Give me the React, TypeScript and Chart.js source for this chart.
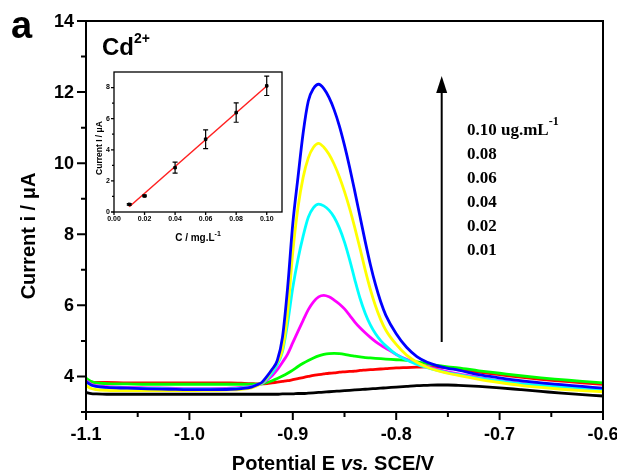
import React, { useEffect, useRef } from "react";
import { Chart, registerables } from "chart.js";
Chart.register(...registerables);

// ---------- main DPV curves ----------
const potential = [
  -1.1, -1.095, -1.09, -1.08, -1.06, -1.04, -1.02, -1.0, -0.98, -0.96, -0.95, -0.94, -0.935,
  -0.93, -0.925, -0.92, -0.915, -0.91, -0.905, -0.9, -0.895, -0.89, -0.885, -0.88, -0.875,
  -0.87, -0.865, -0.86, -0.855, -0.85, -0.845, -0.84, -0.835, -0.83, -0.825, -0.82, -0.815, -0.81,
  -0.8, -0.79, -0.78, -0.77, -0.76, -0.75, -0.74, -0.72, -0.7, -0.68, -0.66, -0.64, -0.62, -0.6,
];

const blank = [
  3.55, 3.52, 3.51, 3.5, 3.5, 3.5, 3.5, 3.5, 3.5, 3.5, 3.5, 3.5, 3.5,
  3.5, 3.5, 3.5, 3.5, 3.51, 3.51, 3.51, 3.52, 3.52, 3.53, 3.54, 3.55,
  3.56, 3.57, 3.58, 3.59, 3.6, 3.61, 3.62, 3.63, 3.64, 3.65, 3.66, 3.67, 3.68,
  3.7, 3.72, 3.74, 3.75, 3.76, 3.76, 3.75, 3.72, 3.68, 3.63, 3.58, 3.53, 3.49, 3.45,
];
const conc001 = [
  3.9, 3.85, 3.83, 3.83, 3.82, 3.82, 3.82, 3.82, 3.82, 3.82, 3.81, 3.8, 3.79,
  3.79, 3.8, 3.82, 3.84, 3.86, 3.88, 3.91, 3.94, 3.97, 4.0, 4.03, 4.05,
  4.07, 4.09, 4.1, 4.12, 4.13, 4.14, 4.15, 4.17, 4.18, 4.19, 4.2, 4.21, 4.22,
  4.24, 4.25, 4.26, 4.27, 4.26, 4.24, 4.2, 4.12, 4.05, 3.98, 3.92, 3.87, 3.82, 3.78,
];
const conc002 = [
  3.95, 3.86, 3.82, 3.8, 3.79, 3.78, 3.78, 3.78, 3.78, 3.78, 3.78, 3.78, 3.78,
  3.79, 3.83, 3.88, 3.94, 4.01, 4.09, 4.18, 4.28, 4.37, 4.45, 4.52, 4.58,
  4.62, 4.645, 4.65, 4.64, 4.62, 4.59, 4.57, 4.55, 4.53, 4.52, 4.51, 4.5, 4.49,
  4.47, 4.45, 4.41, 4.36, 4.31, 4.27, 4.24, 4.16, 4.09, 4.02, 3.96, 3.91, 3.86, 3.82,
];
const conc004 = [
  3.88, 3.78, 3.74, 3.71, 3.69, 3.68, 3.67, 3.66, 3.66, 3.67, 3.69, 3.72, 3.76,
  3.8, 3.9, 4.02, 4.19, 4.4, 4.63, 4.95, 5.27, 5.58, 5.88, 6.1, 6.24,
  6.28, 6.24, 6.15, 6.04, 5.9, 5.72, 5.53, 5.37, 5.23, 5.1, 4.98, 4.88, 4.79,
  4.62, 4.48, 4.37, 4.28, 4.2, 4.13, 4.07, 3.97, 3.88, 3.81, 3.76, 3.72, 3.68, 3.65,
];
const conc006 = [
  3.85, 3.76, 3.72, 3.69, 3.67, 3.66, 3.65, 3.64, 3.64, 3.65, 3.67, 3.71, 3.76,
  3.8, 3.93, 4.1, 4.33, 4.7, 5.5, 6.5, 7.3, 7.95, 8.48, 8.75, 8.85,
  8.8, 8.68, 8.48, 8.18, 7.78, 7.28, 6.72, 6.2, 5.78, 5.45, 5.2, 5.01, 4.86,
  4.62, 4.46, 4.34, 4.25, 4.17, 4.1, 4.05, 3.95, 3.87, 3.8, 3.75, 3.71, 3.67, 3.63,
];
const conc008 = [
  3.75, 3.66, 3.63, 3.61, 3.6, 3.6, 3.6, 3.6, 3.61, 3.62, 3.64, 3.68, 3.73,
  3.82, 3.97, 4.18, 4.4, 4.75, 5.8, 7.5, 8.75, 9.6, 10.15, 10.45, 10.56,
  10.45, 10.25, 9.97, 9.62, 9.2, 8.72, 8.18, 7.6, 7.0, 6.45, 5.98, 5.6, 5.3,
  4.9, 4.6, 4.4, 4.26, 4.16, 4.09, 4.03, 3.92, 3.83, 3.75, 3.69, 3.64, 3.6, 3.57,
];
const conc010 = [
  3.85, 3.76, 3.72, 3.69, 3.67, 3.65, 3.64, 3.63, 3.63, 3.64, 3.66, 3.7, 3.76,
  3.83, 4.0, 4.2, 4.45, 5.1, 6.5, 8.3, 9.6, 10.85, 11.75, 12.1, 12.22,
  12.1, 11.85, 11.5, 11.05, 10.5, 9.88, 9.2, 8.5, 7.8, 7.15, 6.58, 6.1, 5.72,
  5.2, 4.82, 4.56, 4.4, 4.3, 4.23, 4.18, 4.05, 3.96, 3.88, 3.82, 3.77, 3.72, 3.67,
];

const seriesNames = ["0.10", "0.08", "0.06", "0.04", "0.02", "0.01", "blank"];
const seriesValues = [conc010, conc008, conc006, conc004, conc002, conc001, blank];
const seriesColors = ["#0000ff", "#ffff00", "#00ffff", "#ff00ff", "#00ff00", "#ff0000", "#000000"];

const xMajorTicks = [-1.1, -1.0, -0.9, -0.8, -0.7, -0.6];
const xTickLabels = ["-1.1", "-1.0", "-0.9", "-0.8", "-0.7", "-0.6"];
const xMinorTicks = [-1.05, -0.95, -0.85, -0.75, -0.65];
const yMajorTicks = [4, 6, 8, 10, 12, 14];
const yTickLabels = ["4", "6", "8", "10", "12", "14"];
const yMinorTicks = [3, 5, 7, 9, 11, 13];

const legendLines = ["0.10 ug.mL", "0.08", "0.06", "0.04", "0.02", "0.01"];
const arrowX = -0.756;
const arrowFrom = 4.97;
const arrowTo = 12.45;

// ---------- inset calibration ----------
const insetConc = [0.01, 0.02, 0.04, 0.06, 0.08, 0.1];
const insetCurrent = [0.49, 1.03, 2.85, 4.68, 6.39, 8.11];
const insetError = [0.05, 0.05, 0.35, 0.6, 0.62, 0.62];
const fitConc = [0.01, 0.1];
const fitCurrent = [0.34, 8.1];
const insetXTicks = [0, 0.02, 0.04, 0.06, 0.08, 0.1];
const insetXLabels = ["0.00", "0.02", "0.04", "0.06", "0.08", "0.10"];
const insetYTicks = [0, 2, 4, 6, 8];
const insetYLabels = ["0", "2", "4", "6", "8"];
const insetYMinor = [1, 3, 5, 7];

const SANS = '"Liberation Sans", Arial, sans-serif';
const SERIF = '"Liberation Serif", "Times New Roman", serif';

type Run = { t: string; f: string; dy?: number };
function drawRuns(ctx: CanvasRenderingContext2D, runs: Run[], x: number, y: number, align: "left" | "center") {
  ctx.textAlign = "left";
  ctx.textBaseline = "alphabetic";
  let total = 0;
  runs.forEach((r) => {
    ctx.font = r.f;
    total += ctx.measureText(r.t).width;
  });
  let cx = align === "center" ? x - total / 2 : x;
  runs.forEach((r) => {
    ctx.font = r.f;
    ctx.fillText(r.t, cx, y + (r.dy || 0));
    cx += ctx.measureText(r.t).width;
  });
}

const mainDecor = {
  id: "mainDecor",
  afterDraw(chart: any) {
    const { ctx, chartArea: a, scales } = chart;
    const x = scales.x;
    const y = scales.y;
    ctx.save();
    ctx.fillStyle = "#000";
    ctx.strokeStyle = "#000";
    ctx.lineWidth = 2;
    ctx.strokeRect(a.left, a.top, a.right - a.left, a.bottom - a.top);
    ctx.beginPath();
    xMajorTicks.forEach((v) => {
      const p = x.getPixelForValue(v);
      ctx.moveTo(p, a.bottom);
      ctx.lineTo(p, a.bottom + 8);
    });
    xMinorTicks.forEach((v) => {
      const p = x.getPixelForValue(v);
      ctx.moveTo(p, a.bottom);
      ctx.lineTo(p, a.bottom + 5);
    });
    yMajorTicks.forEach((v) => {
      const p = y.getPixelForValue(v);
      ctx.moveTo(a.left, p);
      ctx.lineTo(a.left - 9, p);
    });
    yMinorTicks.forEach((v) => {
      const p = y.getPixelForValue(v);
      ctx.moveTo(a.left, p);
      ctx.lineTo(a.left - 5, p);
    });
    ctx.stroke();

    // tick labels
    ctx.font = `bold 18px ${SANS}`;
    ctx.textAlign = "center";
    ctx.textBaseline = "middle";
    xMajorTicks.forEach((v, i) => ctx.fillText(xTickLabels[i], x.getPixelForValue(v), a.bottom + 23));
    ctx.textAlign = "right";
    yMajorTicks.forEach((v, i) => ctx.fillText(yTickLabels[i], a.left - 12, y.getPixelForValue(v) + 1));

    // axis titles
    const tf = `bold 20px ${SANS}`;
    drawRuns(
      ctx,
      [
        { t: "Potential E ", f: tf },
        { t: "vs.", f: `italic bold 20px ${SANS}` },
        { t: " SCE/V", f: tf },
      ],
      333,
      470,
      "center"
    );
    ctx.save();
    ctx.translate(35, 236);
    ctx.rotate(-Math.PI / 2);
    drawRuns(ctx, [{ t: "Current i / \u03bcA", f: tf }], 0, 0, "center");
    ctx.restore();

    // panel letter and ion
    drawRuns(ctx, [{ t: "a", f: `bold 38px ${SANS}` }], 11, 38, "left");
    drawRuns(
      ctx,
      [
        { t: "Cd", f: `bold 24px ${SANS}` },
        { t: "2+", f: `bold 14px ${SANS}`, dy: -12 },
      ],
      102,
      55,
      "left"
    );

    // arrow
    const ax = x.getPixelForValue(arrowX);
    const ay0 = y.getPixelForValue(arrowFrom);
    const ay1 = y.getPixelForValue(arrowTo);
    ctx.lineWidth = 2;
    ctx.beginPath();
    ctx.moveTo(ax, ay0);
    ctx.lineTo(ax, ay1 + 12);
    ctx.stroke();
    ctx.beginPath();
    ctx.moveTo(ax, ay1);
    ctx.lineTo(ax - 5.5, ay1 + 17);
    ctx.lineTo(ax + 5.5, ay1 + 17);
    ctx.closePath();
    ctx.fill();

    // legend text
    const lf = `bold 17px ${SERIF}`;
    legendLines.forEach((s, i) => {
      const runs: Run[] = [{ t: s, f: lf }];
      if (i === 0) runs.push({ t: "-1", f: `bold 12px ${SERIF}`, dy: -10 });
      drawRuns(ctx, runs, 467, 135 + i * 24, "left");
    });
    ctx.restore();
  },
};

const insetDecor = {
  id: "insetDecor",
  afterDraw(chart: any) {
    const { ctx, chartArea: a, scales } = chart;
    const x = scales.x;
    const y = scales.y;
    ctx.save();
    ctx.strokeStyle = "#000";
    ctx.fillStyle = "#000";
    ctx.lineWidth = 1.3;
    ctx.strokeRect(a.left, a.top, a.right - a.left, a.bottom - a.top);
    ctx.beginPath();
    insetXTicks.forEach((v) => {
      const p = x.getPixelForValue(v);
      ctx.moveTo(p, a.bottom);
      ctx.lineTo(p, a.bottom + 3);
    });
    insetYTicks.forEach((v) => {
      const p = y.getPixelForValue(v);
      ctx.moveTo(a.left, p);
      ctx.lineTo(a.left - 3, p);
    });
    insetYMinor.forEach((v) => {
      const p = y.getPixelForValue(v);
      ctx.moveTo(a.left, p);
      ctx.lineTo(a.left - 2, p);
    });
    ctx.stroke();

    // error bars
    ctx.lineWidth = 1.2;
    ctx.beginPath();
    insetConc.forEach((c, i) => {
      const px = x.getPixelForValue(c);
      const top = y.getPixelForValue(insetCurrent[i] + insetError[i]);
      const bot = y.getPixelForValue(insetCurrent[i] - insetError[i]);
      ctx.moveTo(px, top);
      ctx.lineTo(px, bot);
      ctx.moveTo(px - 2.5, top);
      ctx.lineTo(px + 2.5, top);
      ctx.moveTo(px - 2.5, bot);
      ctx.lineTo(px + 2.5, bot);
    });
    ctx.stroke();

    ctx.font = `bold 7px ${SANS}`;
    ctx.textAlign = "center";
    ctx.textBaseline = "middle";
    insetXTicks.forEach((v, i) => ctx.fillText(insetXLabels[i], x.getPixelForValue(v), a.bottom + 7));
    ctx.textAlign = "right";
    insetYTicks.forEach((v, i) => ctx.fillText(insetYLabels[i], a.left - 4, y.getPixelForValue(v)));

    drawRuns(
      ctx,
      [
        { t: "C / mg.L", f: `bold 10px ${SANS}` },
        { t: "-1", f: `bold 7px ${SANS}`, dy: -5 },
      ],
      (a.left + a.right) / 2,
      a.bottom + 29,
      "center"
    );
    ctx.save();
    ctx.translate(13.5, 86);
    ctx.rotate(-Math.PI / 2);
    drawRuns(ctx, [{ t: "Current I / \u03bcA", f: `bold 8.5px ${SANS}` }], 0, 0, "center");
    ctx.restore();
    ctx.restore();
  },
};

export default function App() {
  const mainRef = useRef<HTMLCanvasElement>(null);
  const insetRef = useRef<HTMLCanvasElement>(null);

  useEffect(() => {
    document.body.style.margin = "0";
    const main = new Chart(mainRef.current!, {
      type: "line",
      data: {
        datasets: seriesValues.map((vals, i) => ({
          label: seriesNames[i],
          data: potential.map((p, j) => ({ x: p, y: vals[j] })),
          borderColor: seriesColors[i],
          borderWidth: 2.8,
          pointRadius: 0,
          cubicInterpolationMode: "monotone" as const,
          order: i,
        })),
      },
      options: {
        responsive: false,
        animation: false,
        layout: { padding: { top: 21, right: 14, left: 0, bottom: 0 } },
        plugins: { legend: { display: false }, tooltip: { enabled: false } },
        scales: {
          x: {
            type: "linear",
            min: -1.1,
            max: -0.6,
            ticks: { display: false },
            grid: { display: false },
            border: { display: false },
            afterFit: (s: any) => {
              s.height = 62;
            },
          },
          y: {
            type: "linear",
            min: 3,
            max: 14,
            ticks: { display: false },
            grid: { display: false },
            border: { display: false },
            afterFit: (s: any) => {
              s.width = 86;
            },
          },
        },
      },
      plugins: [mainDecor],
    });

    const inset = new Chart(insetRef.current!, {
      type: "scatter",
      data: {
        datasets: [
          {
            label: "measured",
            data: insetConc.map((c, i) => ({ x: c, y: insetCurrent[i] })),
            pointStyle: "rect",
            pointRadius: 1.8,
            backgroundColor: "#000",
            borderColor: "#000",
            showLine: false,
            order: 0,
          },
          {
            label: "fit",
            data: fitConc.map((c, i) => ({ x: c, y: fitCurrent[i] })),
            borderColor: "#ff2020",
            borderWidth: 1.5,
            pointRadius: 0,
            showLine: true,
            order: 1,
          },
        ],
      },
      options: {
        responsive: false,
        animation: false,
        layout: { padding: { top: 10, right: 16, left: 0, bottom: 0 } },
        plugins: { legend: { display: false }, tooltip: { enabled: false } },
        scales: {
          x: {
            type: "linear",
            min: 0,
            max: 0.11,
            ticks: { display: false },
            grid: { display: false },
            border: { display: false },
            afterFit: (s: any) => {
              s.height = 35;
            },
          },
          y: {
            type: "linear",
            min: 0,
            max: 9,
            ticks: { display: false },
            grid: { display: false },
            border: { display: false },
            afterFit: (s: any) => {
              s.width = 26;
            },
          },
        },
      },
      plugins: [insetDecor],
    });

    return () => {
      main.destroy();
      inset.destroy();
    };
  }, []);

  return (
    <div style={{ position: "relative", width: 617, height: 474, background: "#fff" }}>
      <canvas ref={mainRef} width={617} height={474} style={{ position: "absolute", left: 0, top: 0 }} />
      <canvas ref={insetRef} width={210} height={185} style={{ position: "absolute", left: 88, top: 62 }} />
    </div>
  );
}
